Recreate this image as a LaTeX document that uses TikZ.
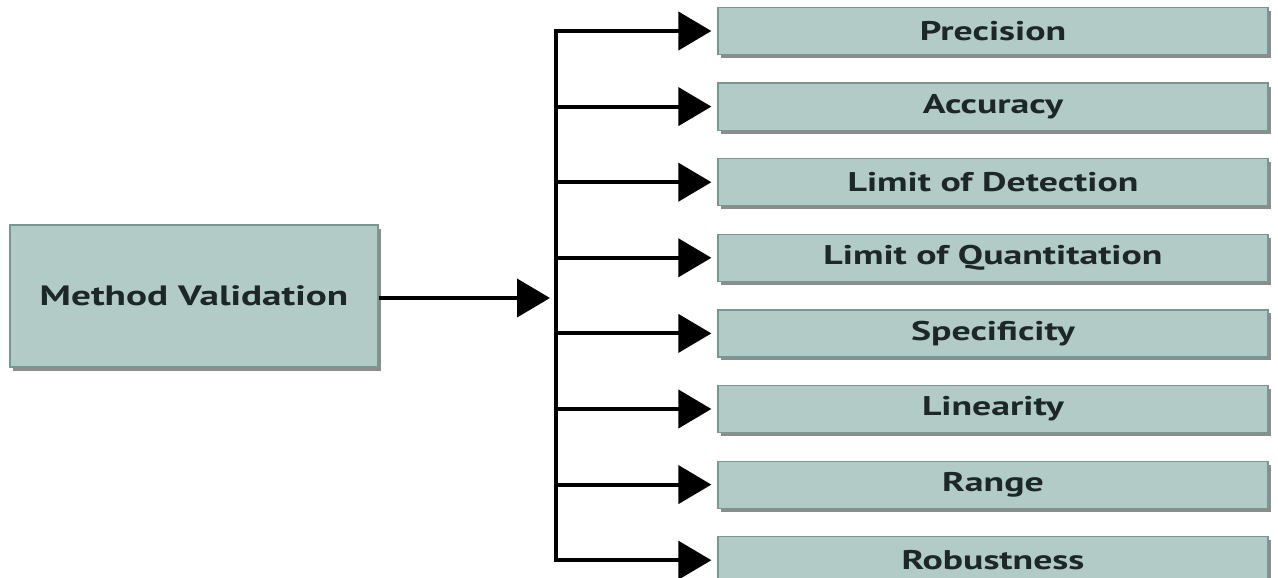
\documentclass[tikz,border=0pt]{standalone}
\usepackage{graphicx}
\usepackage{fontspec}
\setmainfont{PT Sans}
\usetikzlibrary{arrows.meta,shadows}
\definecolor{boxfill}{HTML}{B3CBC7}
\definecolor{boxline}{HTML}{7A9691}
\definecolor{txt}{HTML}{1C2727}
\newcommand{\wide}[1]{\scalebox{1.4}[1]{#1}}
\tikzset{
  box/.style={draw=boxline, line width=1.2pt, fill=boxfill, text=txt,
    font=\bfseries\fontsize{27}{30}\selectfont,
    drop shadow={shadow xshift=3pt, shadow yshift=-3.5pt, fill=black!60, opacity=0.75},
    inner sep=0pt},
  rbox/.style={box, minimum width=550pt, minimum height=47pt},
  conn/.style={line width=4pt, black},
  arr/.style={conn, -{Triangle[length=33pt,width=38pt]}, shorten >=6pt},
}
\begin{document}
\begin{tikzpicture}[x=1pt,y=-1pt]
\useasboundingbox (0,0) rectangle (1278,578);
\begin{scope}
\clip (0,0) rectangle (1278,578);
\node[box, minimum width=368pt, minimum height=142pt, font=\bfseries\fontsize{28}{31}\selectfont] (mv) at (194,296) {\wide{Method Validation}};
\foreach \i/\t in {0/Precision,1/Accuracy,2/Limit of Detection,3/Limit of Quantitation,4/Specificity,5/Linearity,6/Range,7/Robustness}{
  \node[rbox] (b\i) at (993,{31+75.6*\i}) {\wide{\t}};
  \coordinate (j\i) at (556,{31+75.6*\i});
  \draw[arr] (j\i) -- (b\i.west);
}
\coordinate (hub) at (556,298);
\draw[conn] ([yshift=2pt]j0) -- ([yshift=-2pt]j7);
\draw[arr] (mv.east |- hub) -- (hub);
\end{scope}
\end{tikzpicture}
\end{document}
